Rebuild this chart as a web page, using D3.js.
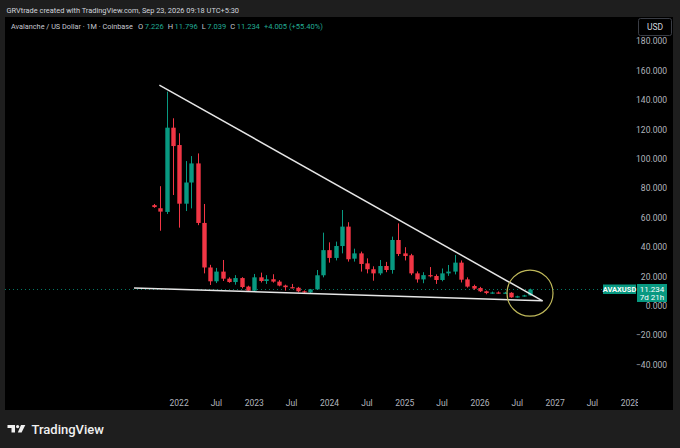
<!DOCTYPE html>
<html><head><meta charset="utf-8">
<script src="https://cdn.jsdelivr.net/npm/d3@7/dist/d3.min.js"></script>
<style>
html,body{margin:0;padding:0;background:#1e1e1e;}
svg{display:block;}
text{font-family:Roboto,"Noto Sans",sans-serif;}
</style></head>
<body>
<svg id="c" width="680" height="448"></svg>
<script>
// ---- data ----
const months = ["2021-09","2021-10","2021-11","2021-12",
"2022-01","2022-02","2022-03","2022-04","2022-05","2022-06","2022-07","2022-08","2022-09","2022-10","2022-11","2022-12",
"2023-01","2023-02","2023-03","2023-04","2023-05","2023-06","2023-07","2023-08","2023-09","2023-10","2023-11","2023-12",
"2024-01","2024-02","2024-03","2024-04","2024-05","2024-06","2024-07","2024-08","2024-09","2024-10","2024-11","2024-12",
"2025-01","2025-02","2025-03","2025-04","2025-05","2025-06","2025-07","2025-08","2025-09","2025-10","2025-11","2025-12",
"2026-01","2026-02","2026-03","2026-04","2026-05","2026-06","2026-07","2026-08","2026-09"];
const open  = [68.6,66.5,64.0,121.3, 109.5,69.6,84.0,97.0,56.5,26.2,16.8,23.4,18.6,16.3,19.0,13.2,
 10.4,19.5,17.0,18.2,16.6,13.9,12.8,12.4,10.0,9.2,11.3,20.9,
 38.0,32.7,40.8,54.0,32.2,35.8,29.0,25.0,22.2,27.2,24.5,44.9,
 35.8,34.5,22.2,18.1,21.0,20.4,17.7,22.2,23.4,29.5,18.1,13.6,
 12.2,10.0,8.8,9.2,8.9,9.0,5.9,6.6,7.226];
const high  = [69.4,81.5,145.8,127.7, 117.5,98.6,102.0,103.8,69.4,28.0,25.9,31.3,19.5,21.0,19.6,13.8,
 21.8,22.7,21.0,21.6,17.6,14.5,15.0,13.0,10.6,11.6,24.5,49.9,
 43.3,43.8,65.3,57.0,39.0,37.0,32.4,27.0,31.3,30.0,47.2,56.2,
 40.0,35.5,23.5,23.0,26.5,21.5,25.5,27.9,34.7,31.0,19.5,14.5,
 13.0,10.5,9.8,9.9,9.6,9.4,7.0,7.6,11.796];
const low   = [66.8,51.2,62.6,75.5, 53.3,64.6,66.4,55.0,22.2,14.3,15.6,17.0,15.8,14.5,12.0,10.0,
 10.2,16.0,15.0,15.9,13.4,10.5,12.0,9.3,8.7,8.6,10.9,19.5,
 29.5,31.0,35.8,30.2,30.2,23.4,22.2,17.2,21.0,23.0,22.0,34.0,
 31.0,21.0,15.9,15.5,19.5,15.0,16.8,20.5,21.5,16.0,12.5,11.0,
 9.5,8.0,8.3,8.4,8.5,5.6,5.7,6.3,7.039];
const close = [67.3,64.2,121.3,108.8, 69.6,84.0,97.0,56.5,26.2,16.8,23.4,18.6,16.3,19.0,12.9,10.4,
 19.5,17.0,18.2,16.6,13.9,12.8,12.4,10.0,9.2,11.3,20.9,38.0,
 32.7,40.8,54.0,31.8,35.8,28.6,25.0,22.2,27.2,24.5,44.9,35.4,
 34.0,22.2,18.1,21.0,20.4,17.7,22.2,23.4,29.5,17.9,13.2,11.8,
 10.0,8.8,9.2,8.9,9.1,5.9,6.6,7.226,11.234];
const priceTicks = [-40,-20,0,20,40,60,80,100,120,140,160,180];
const timeTicks = ["2022-01","2022-07","2023-01","2023-07","2024-01","2024-07","2025-01","2025-07","2026-01","2026-07","2027-01","2027-07","2028-01"];
const upperLine = [["2021-09-27",150.3],["2026-11-01",3.5]];
const lowerLine = [["2021-05-27",12.3],["2026-11-01",3.5]];
const circleMark = ["2026-09",8.7];
const lastPrice = 11.234;
const countdown = "7d 21h";
const symbol = "AVAXUSD";
const headerTitle = "GRVtrade created with TradingView.com, Sep 23, 2026 09:18 UTC+5:30";
const seriesTitle = "Avalanche / US Dollar · 1M · Coinbase";
const ohlcLabels = [["O","7.226"],["H","11.796"],["L","7.039"],["C","11.234"]];
const changeText = "+4.005 (+55.40%)";

// ---- setup ----
const UP="#089981", DOWN="#f23645", TXT="#b2b5be";
const parseM = d3.utcParse("%Y-%m"), parseD = d3.utcParse("%Y-%m-%d");
const svg = d3.select("#c");
const x = d3.scaleUtc().domain([parseM("2021-09"), parseM("2026-09")]).range([154, 530]);
const y = d3.scaleLinear().domain([0, 180]).range([306, 41.4]);

svg.append("rect").attr("width",680).attr("height",448).attr("fill","#1e1e1e");
svg.append("rect").attr("x",5).attr("y",17).attr("width",668).attr("height",393).attr("fill","#000");

// text fitted to a given width by font size
function fitText(sel, base, w){
  sel.attr("font-size",base);
  const n = sel.node().getComputedTextLength();
  sel.attr("font-size", base*Math.min(1.15, w/n));
  return sel;
}
// header
fitText(svg.append("text").attr("x",6.5).attr("y",13).attr("fill","#d1d4dc").text(headerTitle), 10, 233);
fitText(svg.append("text").attr("x",11).attr("y",29).attr("fill","#c7c9d1").text(seriesTitle), 9, 122);

// OHLC legend: laid out sequentially
const pieces = [];
ohlcLabels.forEach((p,i)=>{ pieces.push({t:p[0],c:"#c7c9d1",gap:i?4:0}); pieces.push({t:p[1],c:"#22ab94",gap:1.5}); });
pieces.push({t:changeText,c:"#22ab94",gap:4});
const og = svg.append("g");
const fs = 8;
const nodes = pieces.map(p=>og.append("text").attr("y",29).attr("font-size",fs).attr("fill",p.c).text(p.t));
const widths = nodes.map(n=>n.node().getComputedTextLength());
const totalGap = d3.sum(pieces,p=>p.gap);
const k = Math.min(1, (185 - totalGap)/d3.sum(widths));
let cx = 138;
nodes.forEach((n,i)=>{
  cx += pieces[i].gap;
  n.attr("font-size",fs*k).attr("x",cx);
  cx += widths[i]*k;
});

// clip for pane
svg.append("clipPath").attr("id","pane").append("rect").attr("x",5).attr("y",17).attr("width",632).attr("height",393);
const pane = svg.append("g").attr("clip-path","url(#pane)");

// price line (dotted)
pane.append("line").attr("x1",5).attr("x2",637).attr("y1",y(lastPrice)).attr("y2",y(lastPrice))
  .attr("stroke",UP).attr("stroke-width",1).attr("stroke-dasharray","1,3").attr("opacity",0.8);

// candles
const data = months.map((m,i)=>({t:parseM(m),o:open[i],h:high[i],l:low[i],c:close[i]}));
const bw = 4.4;
const cg = pane.append("g").selectAll("g").data(data).join("g");
cg.append("line").attr("x1",d=>Math.round(x(d.t))+0.5).attr("x2",d=>Math.round(x(d.t))+0.5)
  .attr("y1",d=>y(d.h)).attr("y2",d=>y(d.l)).attr("stroke",d=>d.c>=d.o?UP:DOWN).attr("stroke-width",1);
cg.append("rect").attr("x",d=>Math.round(x(d.t))+0.5-bw/2).attr("width",bw)
  .attr("y",d=>y(Math.max(d.o,d.c))).attr("height",d=>Math.max(1.2,Math.abs(y(d.o)-y(d.c))))
  .attr("fill",d=>d.c>=d.o?UP:DOWN);

// trendlines
const lineGen = d3.line().x(d=>x(parseD(d[0]))).y(d=>y(d[1]));
[upperLine, lowerLine].forEach(L=>{
  pane.append("path").attr("d",lineGen(L)).attr("fill","none").attr("stroke","#e6e6e6").attr("stroke-width",1.5);
});
// circle
pane.append("circle").attr("cx",x(parseM(circleMark[0]))).attr("cy",y(circleMark[1])).attr("r",23)
  .attr("fill","none").attr("stroke","#bfb85a").attr("stroke-width",1.2);

// price axis
svg.append("g").selectAll("text").data(priceTicks).join("text")
  .attr("x",667).attr("y",d=>y(d)+3).attr("text-anchor","end").attr("fill",TXT).attr("font-size",8.5)
  .text(d=>d3.format(".3f")(d));

// USD button
svg.append("rect").attr("x",638.5).attr("y",18.5).attr("width",33).attr("height",17).attr("rx",2)
  .attr("fill","#000").attr("stroke","#3a3d45");
svg.append("text").attr("x",655).attr("y",30).attr("text-anchor","middle").attr("fill","#d1d4dc").attr("font-size",8.5).text("USD");

// last price labels
const py = y(lastPrice);
svg.append("rect").attr("x",603).attr("y",py-5).attr("width",33).attr("height",9.5).attr("fill",UP);
svg.append("text").attr("x",619.5).attr("y",py+2.6).attr("text-anchor","middle").attr("fill","#fff").attr("font-size",7.5).attr("font-weight","bold").text(symbol);
svg.append("rect").attr("x",637).attr("y",py-5.5).attr("width",30).attr("height",18).attr("fill",UP);
svg.append("text").attr("x",652).attr("y",py+2.6).attr("text-anchor","middle").attr("fill","#fff").attr("font-size",8).text(d3.format(".3f")(lastPrice));
svg.append("text").attr("x",652).attr("y",py+10.6).attr("text-anchor","middle").attr("fill","#fff").attr("font-size",8).text(countdown);

// time axis
svg.append("clipPath").attr("id","taxis").append("rect").attr("x",5).attr("y",390).attr("width",633).attr("height",20);
svg.append("g").attr("clip-path","url(#taxis)").selectAll("text").data(timeTicks).join("text")
  .attr("x",d=>x(parseM(d))).attr("y",406).attr("text-anchor","middle").attr("fill",TXT).attr("font-size",8.5)
  .text(d=>d.endsWith("-01")?d.slice(0,4):"Jul");

// TradingView logo
const lg = svg.append("g").attr("fill","#f0f0f0");
lg.append("rect").attr("x",7.5).attr("y",425).attr("width",7.5).attr("height",3);
lg.append("rect").attr("x",11.5).attr("y",425).attr("width",3.5).attr("height",7.5);
lg.append("circle").attr("cx",17.6).attr("cy",426.6).attr("r",1.6);
lg.append("polygon").attr("points","21,425 25.3,425 21.6,432.5 17.8,432.5");
fitText(svg.append("text").attr("x",31.5).attr("y",434).attr("fill","#f0f0f0").attr("font-weight",500).text("TradingView"), 14, 72.5);
</script>
</body></html>
